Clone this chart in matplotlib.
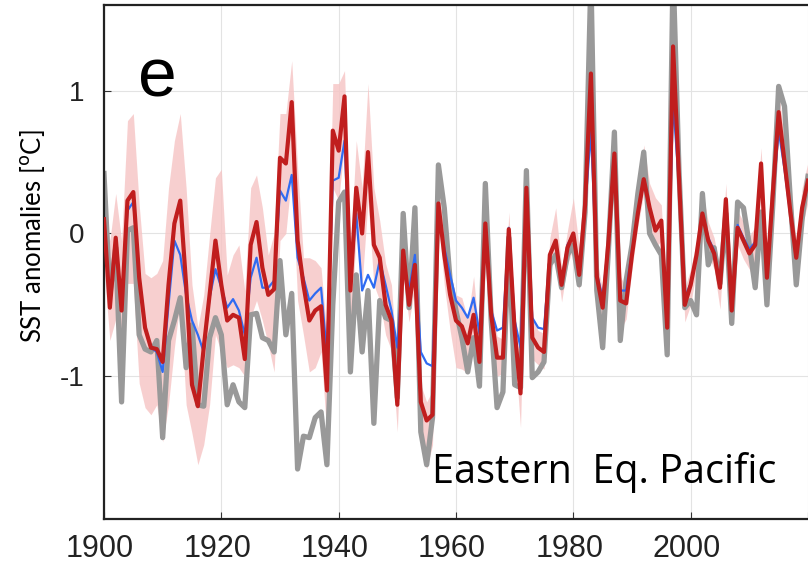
import numpy as np
import matplotlib
matplotlib.use("Agg")
import matplotlib.pyplot as plt
from matplotlib.transforms import ScaledTranslation

years = list(range(1900, 2021))

# Observed SST anomaly (grey)
obs = [
    0.42, -0.43, -0.10, -1.18, 0.02, 0.04, -0.71, -0.81, -0.83, -0.75,
    -1.43, -0.75, -0.61, -0.45, -0.94, -0.64, -1.20, -1.21, -0.73, -0.59,
    -0.71, -1.20, -1.06, -1.18, -1.22, -0.57, -0.56, -0.73, -0.75, -0.83,
    -0.19, -0.71, -0.42, -1.65, -1.42, -1.43, -1.29, -1.25, -1.62, -0.50,
    0.22, 0.29, -0.97, -0.29, -0.83, -0.40, -1.33, -0.47, -0.59, -0.61,
    -1.15, 0.14, -0.52, 0.18, -1.39, -1.62, -1.29, 0.48, 0.18, -0.33,
    -0.54, -0.73, -0.97, -0.73, -1.07, 0.35, -0.61, -1.22, -1.11, -0.03,
    -1.06, -1.08, 0.44, -1.01, -0.97, -0.90, -0.22, -0.15, -0.38, -0.15,
    -0.08, -0.36, 0.15, 1.80, -0.40, -0.80, -0.10, 0.71, -0.75, -0.33,
    -0.08, 0.28, 0.57, 0.00, -0.08, -0.15, -0.85, 1.85, 0.45, -0.52,
    -0.47, -0.57, 0.28, -0.22, -0.10, -0.35, 0.14, -0.63, 0.22, 0.18,
    -0.08, -0.38, 0.15, -0.50, 0.20, 1.03, 0.89, 0.23, -0.36, 0.10,
    0.40,
]

# Reconstruction, first estimate (blue)
recon_a = [
    0.08, -0.45, -0.05, -0.50, 0.16, 0.22, -0.30, -0.65, -0.80, -0.83,
    -0.97, -0.50, -0.05, -0.15, -0.43, -0.61, -0.71, -0.83, -0.45, -0.25,
    -0.38, -0.52, -0.46, -0.54, -0.71, -0.31, -0.17, -0.38, -0.38, -0.33,
    0.30, 0.23, 0.41, -0.17, -0.31, -0.47, -0.42, -0.38, -0.85, 0.37,
    0.39, 0.65, -0.36, 0.14, -0.40, -0.29, -0.38, -0.19, -0.36, -0.54,
    -0.80, -0.22, -0.40, -0.15, -0.83, -0.91, -0.93, 0.18, -0.10, -0.29,
    -0.47, -0.52, -0.59, -0.45, -0.70, 0.05, -0.54, -0.68, -0.66, 0.04,
    -0.61, -0.80, 0.32, -0.59, -0.66, -0.67, -0.15, -0.05, -0.34, -0.08,
    0.00, -0.27, 0.17, 0.72, -0.28, -0.45, -0.05, 0.50, -0.40, -0.40,
    -0.12, 0.12, 0.36, 0.17, 0.03, 0.08, -0.62, 0.93, 0.35, -0.45,
    -0.35, -0.15, 0.14, -0.03, -0.12, -0.36, 0.22, -0.52, 0.06, -0.03,
    -0.11, -0.06, 0.45, -0.31, 0.25, 0.72, 0.45, 0.13, -0.17, 0.18,
    0.37,
]

# Reconstruction, ensemble mean (red)
recon_b = [
    0.10, -0.52, -0.03, -0.54, 0.23, 0.29, -0.31, -0.66, -0.80, -0.81,
    -0.90, -0.36, 0.07, 0.23, -0.36, -1.06, -1.21, -0.80, -0.43, -0.05,
    -0.36, -0.61, -0.57, -0.59, -0.88, -0.08, 0.08, -0.24, -0.43, -0.39,
    0.53, 0.49, 0.92, -0.05, -0.36, -0.61, -0.54, -0.51, -1.10, 0.72,
    0.58, 0.96, -0.40, 0.32, 0.00, 0.57, -0.08, -0.17, -0.50, -0.61,
    -1.20, -0.12, -0.50, -0.22, -1.18, -1.31, -1.27, 0.21, -0.15, -0.43,
    -0.61, -0.65, -0.77, -0.57, -0.90, 0.07, -0.57, -0.87, -0.87, 0.03,
    -0.68, -1.12, 0.32, -0.73, -0.80, -0.83, -0.15, -0.05, -0.36, -0.10,
    0.00, -0.29, 0.20, 1.12, -0.30, -0.52, -0.05, 0.56, -0.47, -0.49,
    -0.15, 0.14, 0.38, 0.18, 0.02, 0.09, -0.66, 1.31, 0.40, -0.50,
    -0.36, -0.15, 0.14, -0.05, -0.14, -0.38, 0.24, -0.54, 0.04, -0.05,
    -0.14, -0.08, 0.49, -0.31, 0.28, 0.85, 0.50, 0.15, -0.17, 0.18,
    0.37,
]

# Ensemble spread envelope (pink)
spread_lo = [
    -0.25, -0.75, -0.60, -0.95, -0.35, -0.35, -1.05, -1.22, -1.27, -1.20,
    -1.46, -1.20, -0.80, -0.47, -1.20, -1.40, -1.62, -1.48, -1.20, -0.71,
    -0.83, -0.94, -0.92, -0.94, -1.00, -0.59, -0.47, -0.61, -0.78, -0.97,
    -0.05, 0.00, 0.42, -0.47, -0.71, -0.97, -0.94, -0.83, -1.41, 0.32,
    0.23, 0.63, -0.71, 0.00, -0.36, 0.23, -0.36, -0.47, -0.71, -0.82,
    -1.39, -0.29, -0.62, -0.38, -1.36, -1.65, -1.48, 0.09, -0.36, -0.68,
    -0.94, -0.95, -0.98, -0.75, -1.05, -0.05, -0.70, -1.00, -0.98, -0.08,
    -0.80, -1.36, 0.22, -0.88, -0.92, -0.95, -0.27, -0.15, -0.48, -0.22,
    -0.10, -0.40, 0.05, 1.00, -0.40, -0.65, -0.15, 0.45, -0.68, -0.60,
    -0.25, 0.05, 0.28, 0.05, -0.10, -0.05, -0.75, 1.15, 0.30, -0.62,
    -0.50, -0.25, 0.05, -0.15, -0.25, -0.53, 0.10, -0.65, -0.08, -0.18,
    -0.25, -0.35, 0.30, -0.45, 0.10, 0.70, 0.35, 0.00, -0.30, 0.05,
    0.22,
]
spread_hi = [
    0.25, -0.05, 0.28, -0.05, 0.79, 0.84, 0.20, -0.28, -0.31, -0.28,
    -0.19, 0.32, 0.65, 0.84, 0.32, -0.36, -0.66, -0.43, -0.01, 0.39,
    0.45, -0.29, -0.15, -0.08, -0.40, 0.32, 0.41, 0.18, -0.15, 0.00,
    0.84, 0.84, 1.21, 0.46, -0.17, -0.17, -0.19, -0.24, -0.71, 1.05,
    1.05, 1.14, -0.12, 0.65, 0.32, 1.05, 0.32, 0.09, -0.21, -0.36,
    -0.94, 0.04, -0.33, -0.10, -1.06, -1.18, -1.10, 0.32, 0.00, -0.28,
    -0.43, -0.45, -0.60, -0.30, -0.75, 0.15, -0.45, -0.72, -0.74, 0.15,
    -0.55, -0.98, 0.42, -0.60, -0.68, -0.70, -0.03, 0.18, -0.24, 0.02,
    0.25, -0.10, 0.30, 1.30, -0.18, -0.40, 0.05, 0.70, -0.30, -0.38,
    -0.05, 0.25, 0.62, 0.35, 0.25, 0.20, -0.55, 1.45, 0.50, -0.38,
    -0.25, -0.05, 0.30, 0.08, -0.03, -0.25, 0.35, -0.45, 0.16, 0.08,
    -0.02, 0.05, 0.60, -0.20, 0.45, 1.00, 0.65, 0.30, -0.05, 0.32,
    0.50,
]

x_ticks = [1900, 1920, 1940, 1960, 1980, 2000, 2020]
x_tick_labels = ["1900", "1920", "1940", "1960", "1980", "2000", ""]
y_ticks = [-1, 0, 1]
y_tick_labels = ["-1", "0", "1"]

tick_font = ["Liberation Sans", "DejaVu Sans"]
label_font = ["Open Sans", "DejaVu Sans"]

fig = plt.figure(figsize=(8.08, 5.71), dpi=100)
ax = fig.add_axes([0.1287, 0.0911, 0.8713, 0.9001])

ax.fill_between(years, spread_lo, spread_hi, color="#f6c4c4", alpha=0.8,
                linewidth=0, zorder=1)
ax.plot(years, obs, color="#999999", linewidth=3.8, zorder=2)
ax.plot(years, recon_a, color="#2f6bf2", linewidth=1.6, zorder=3)
ax.plot(years, recon_b, color="#c01e1e", linewidth=3.0, zorder=4)

ax.set_xlim(1900, 2020)
ax.set_ylim(-2, 1.6)
ax.set_xticks(x_ticks)
ax.set_xticklabels(x_tick_labels, fontsize=22, family=tick_font)
ax.set_yticks(y_ticks)
ax.set_yticklabels(y_tick_labels, fontsize=20, family=tick_font)
ax.tick_params(direction="in", length=5, width=0.8, color="#333333",
               labelcolor="#222222")
ax.tick_params(axis="x", pad=11)
ax.tick_params(axis="y", pad=14)
ax.grid(True, color="#e3e3e3", linewidth=0.8)
ax.set_axisbelow(True)

# nudge the year labels slightly to the left
shift = ScaledTranslation(-4 / 100, 0, fig.dpi_scale_trans)
for lbl in ax.get_xticklabels():
    lbl.set_transform(lbl.get_transform() + shift)

for side in ("left", "bottom", "top"):
    ax.spines[side].set_linewidth(1.6)
    ax.spines[side].set_color("#222222")
ax.spines["right"].set_visible(False)

ax.set_ylabel(r"SST anomalies [$^{\rm o}$C]", fontsize=18.5,
              family=["Lato", "DejaVu Sans"])
ax.yaxis.set_label_coords(-0.081, 0.55)

ax.text(0.049, 0.858, "e", transform=ax.transAxes, fontsize=50,
        family=tick_font, va="center", ha="left")
ax.text(0.955, 0.09, "Eastern  Eq. Pacific", transform=ax.transAxes,
        fontsize=28.5, family=label_font, ha="right", va="center")

fig.savefig("out.png", dpi=100)
